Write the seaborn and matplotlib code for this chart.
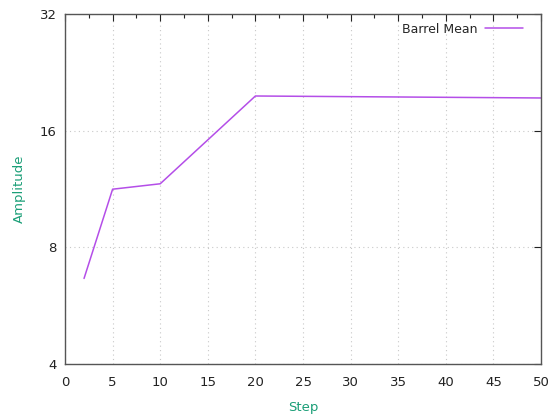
import matplotlib

matplotlib.use("Agg")
import matplotlib.pyplot as plt
import matplotlib.ticker as mticker
import pandas as pd
import seaborn as sns

steps = [2, 5, 10, 20, 50]
barrel_mean = [6.65, 11.3, 11.67, 19.66, 19.43]
y_ticks = [4, 8, 16, 32]
x_ticks = [0, 5, 10, 15, 20, 25, 30, 35, 40, 45, 50]

LINE_COLOR = "#b44ee8"
LABEL_COLOR = "#1a9e77"

frame = pd.DataFrame({"Step": steps, "Amplitude": barrel_mean})

sns.set_theme(style="white")
plt.rcParams["font.family"] = ["DejaVu Sans"]

fig = plt.figure(figsize=(5.52, 4.18), dpi=100)
ax = fig.add_axes([65 / 552, 54 / 418, 476 / 552, 350 / 418])

sns.lineplot(data=frame, x="Step", y="Amplitude", ax=ax, color=LINE_COLOR,
             linewidth=1.1, label="Barrel Mean")

ax.set_yscale("log", base=2)
ax.set_ylim(4, 32)
ax.set_xlim(0, 50)
ax.set_yticks(y_ticks)
ax.yaxis.set_major_formatter(mticker.FixedFormatter([str(v) for v in y_ticks]))
ax.yaxis.set_minor_locator(mticker.NullLocator())
ax.set_xticks(x_ticks)
ax.xaxis.set_minor_locator(mticker.MultipleLocator(2.5))

ax.grid(True, which="major", color="#c8c8c8", linestyle=(0, (1, 3)), linewidth=0.8)
ax.tick_params(which="both", direction="in", top=True, right=True,
               labelsize=9.5, colors="#222222")
ax.tick_params(axis="x", pad=9)
ax.tick_params(axis="y", pad=6)
ax.tick_params(which="major", length=5, width=0.8)
ax.tick_params(which="minor", length=3, width=0.8)
for spine in ax.spines.values():
    spine.set_color("#555555")
    spine.set_linewidth(1.0)

ax.set_xlabel("Step", color=LABEL_COLOR, fontsize=9.5, labelpad=8)
ax.set_ylabel("Amplitude", color=LABEL_COLOR, fontsize=9.5, labelpad=10)

ax.legend(loc="upper right", bbox_to_anchor=(1 - 9 / 476, 1), frameon=False,
          markerfirst=False, fontsize=9, handlelength=3.1, handletextpad=0.6,
          borderaxespad=0.3)

fig.savefig("out.png", dpi=100)
plt.close(fig)
